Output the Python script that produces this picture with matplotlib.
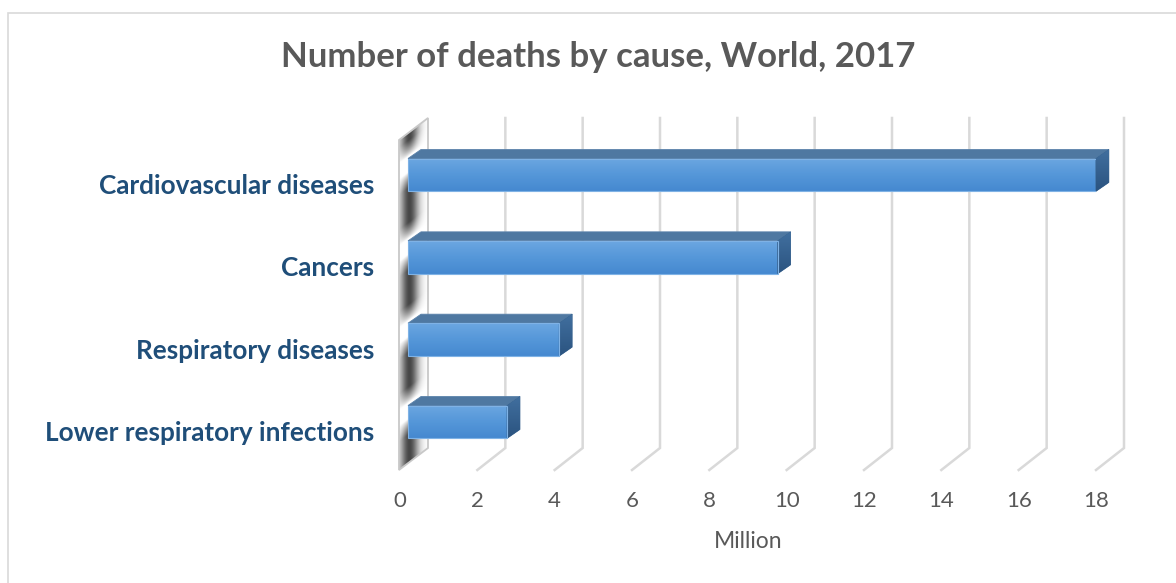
"""
Number of deaths by cause, World, 2017 —— Excel 风格的 3D 横向柱状图。

用 2D 坐标轴模拟 3D 效果：后墙网格线、左侧墙、柱体顶面和端面。
"""

import matplotlib
matplotlib.use("Agg")  # 非交互后端
import matplotlib.pyplot as plt
from matplotlib.patches import Polygon, Rectangle
from matplotlib.colors import LinearSegmentedColormap
import numpy as np

plt.rcParams["font.family"] = ["Lato", "DejaVu Sans"]

# ---- 数据 ----
causes = [
    "Cardiovascular diseases",
    "Cancers",
    "Respiratory diseases",
    "Lower respiratory infections",
]
deaths_million = [17.79, 9.56, 3.91, 2.56]
x_ticks = list(range(0, 20, 2))

TITLE = "Number of deaths by cause, World, 2017"
X_LABEL = "Million"

# ---- 画布与像素换算 ----
W, H = 1176, 583
fig = plt.figure(figsize=(W / 100, H / 100), dpi=100)
fig.patch.set_facecolor("white")

# 绘图区（前平面）：x=0 在 400px，x=18 在 1096px；顶 118px，底 470px
YLIM = (3.583, -0.692)  # 类别 0 的中心在 175px，间距约 82px
ax = fig.add_axes([400 / W, (H - 470) / H, 696 / W, (470 - 118) / H])
ax.set_facecolor("none")
for s in ax.spines.values():
    s.set_visible(False)

PX_X = 696 / 18                   # 每单位 x 的像素
PX_Y = 352 / (YLIM[0] - YLIM[1])  # 每单位 y 的像素


def dx(px):
    """像素 -> x 数据单位。"""
    return px / PX_X


def dy(px):
    """像素（向上）-> y 数据单位（y 轴倒置，向上为负）。"""
    return -px / PX_Y


def clip_to(artist, patch):
    """只按 patch 裁剪，允许画到坐标轴外。"""
    artist.set_clip_path(patch)
    artist.set_clip_box(fig.bbox)


y_bottom, y_top = YLIM
BACK = (28, 22)      # 后墙相对前平面的偏移（右、上）
BAR_DEPTH = (13, 9)  # 柱体厚度
BAR_LEFT = dx(8)     # 柱体前面的起点
BAR_H = 0.40
GRID_C = "#d9d9d9"

# ---- 后墙网格线 + 地面斜线 ----
for v in x_ticks[1:]:
    xb = v + dx(BACK[0])
    yb = y_bottom + dy(BACK[1])
    ax.plot([xb, xb, v], [y_top, yb, y_bottom], color=GRID_C, lw=1.8,
            clip_on=False, zorder=1, solid_joinstyle="miter")

# ---- 左侧墙（带阴影条纹）----
wx0, wx1 = dx(-1), dx(BACK[0])
wall = Polygon([(wx0, y_bottom), (wx0, y_top - dy(BACK[1])),
                (wx1, y_top), (wx1, y_bottom + dy(BACK[1]))],
               closed=True, facecolor="none", edgecolor="#c8c8c8", lw=1.3,
               clip_on=False, zorder=3)
ax.add_patch(wall)

gx = np.linspace(wx0, wx1, 80)
gy = np.linspace(y_top, y_bottom, 500)
GX, GY = np.meshgrid(gx, gy)
t = (GX - wx0) / (wx1 - wx0)
y_front_px = GY * PX_Y + BACK[1] * t  # 投影回前平面（像素）
dist = np.full_like(GX, 1e3)
for i in range(len(causes)):
    top_px = i * PX_Y - 12
    bot_px = i * PX_Y + 4
    d = np.where(y_front_px < top_px, top_px - y_front_px,
                 np.where(y_front_px > bot_px, y_front_px - bot_px, 0))
    dist = np.minimum(dist, d)
fade = np.clip(dist / 16, 0, 1) ** 0.8
dark = np.exp(-((t - 0.36) / 0.32) ** 2) * fade
shade = 1 - 0.72 * dark
img = ax.imshow(shade, cmap="gray", vmin=0, vmax=1, aspect="auto",
                extent=(wx0, wx1, y_bottom, y_top), origin="upper",
                interpolation="bilinear", zorder=2)
clip_to(img, wall)

# ---- 柱体 ----
bars = ax.barh(range(len(causes)), deaths_million, left=BAR_LEFT, height=BAR_H,
               color="none", edgecolor="#7fb2e5", lw=0.8, zorder=6)
grad = np.linspace(0, 1, 50).reshape(-1, 1)
front_cmap = LinearSegmentedColormap.from_list("front", ["#6ba7e1", "#5597d9", "#4589d0"])
end_cmap = LinearSegmentedColormap.from_list("end", ["#416f9f", "#2b5480"])
bdx, bdy = dx(BAR_DEPTH[0]), dy(BAR_DEPTH[1])
for i, (bar, v) in enumerate(zip(bars, deaths_million)):
    x0, x1 = BAR_LEFT, BAR_LEFT + v
    yt, yb = i - BAR_H / 2, i + BAR_H / 2
    # 前面：竖向渐变
    im = ax.imshow(grad, cmap=front_cmap, aspect="auto",
                   extent=(x0, x1, yb, yt), origin="upper", zorder=5)
    clip_to(im, bar)
    # 顶面
    ax.add_patch(Polygon([(x0, yt), (x1, yt), (x1 + bdx, yt + bdy), (x0 + bdx, yt + bdy)],
                         closed=True, facecolor="#4f78a1", edgecolor="#5a82aa",
                         lw=0.6, zorder=5, clip_on=False))
    # 端面
    end = Polygon([(x1, yt), (x1 + bdx, yt + bdy), (x1 + bdx, yb + bdy), (x1, yb)],
                  closed=True, facecolor="#36628f", edgecolor="#36628f",
                  lw=0.5, zorder=5, clip_on=False)
    ax.add_patch(end)
    eim = ax.imshow(grad, cmap=end_cmap, aspect="auto",
                    extent=(x1, x1 + bdx, yb, yt + bdy), origin="upper", zorder=5)
    clip_to(eim, end)

# ---- 坐标轴文字（类别标签在前平面，比柱体中心略低）----
ax.set_xticks(x_ticks)
ax.set_xticklabels([str(v) for v in x_ticks], fontsize=16, color="#595959")
ax.set_yticks([i + 9 / PX_Y for i in range(len(causes))])
ax.set_yticklabels(causes, fontsize=18.8, fontweight="bold", color="#1f4e79")
ax.tick_params(axis="x", length=0, pad=15)
ax.tick_params(axis="y", length=0, pad=18.5)
ax.set_xlim(0, 18)
ax.set_ylim(*YLIM)

fig.text(748 / W, 1 - 541 / H, X_LABEL, ha="center", va="center",
         fontsize=16.5, color="#595959")
fig.text(598 / W, 1 - 57 / H, TITLE, ha="center", va="center",
         fontsize=25, fontweight="bold", color="#595959")

# 外框
fig.add_artist(Rectangle((8 / W, -0.1), 1.2, 1 - 13 / H + 0.1,
                         transform=fig.transFigure, facecolor="none",
                         edgecolor="#d9d9d9", lw=1.2))

fig.savefig("out.png", dpi=100)
